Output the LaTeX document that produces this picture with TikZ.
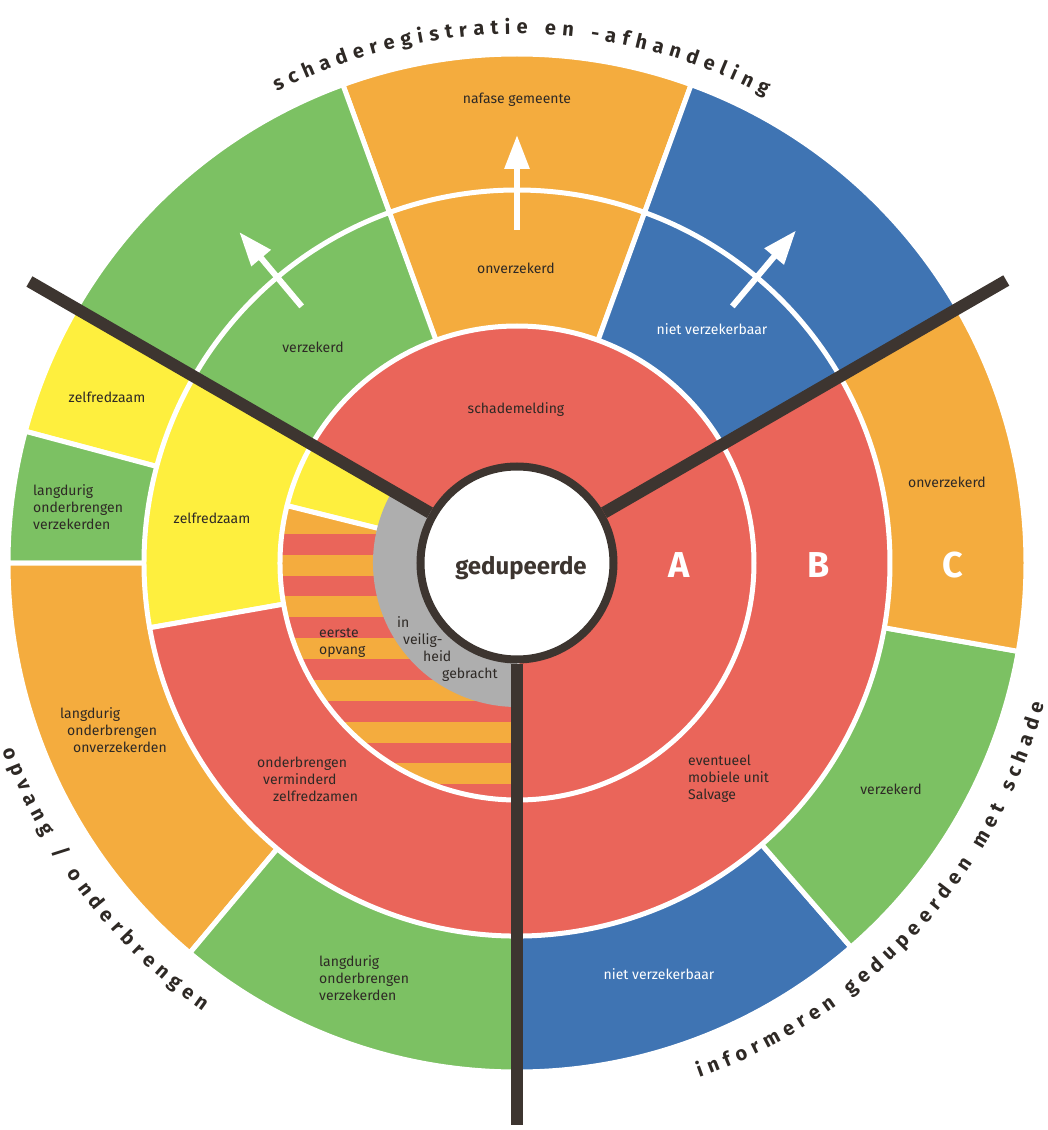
\documentclass[tikz,border=0pt]{standalone}
\usepackage{fontspec}
\setmainfont{Fira Sans}
\usetikzlibrary{arrows.meta,decorations.text}
\definecolor{cRed}{HTML}{EA655A}
\definecolor{cOrange}{HTML}{F4AC3E}
\definecolor{cGreen}{HTML}{7CC163}
\definecolor{cBlue}{HTML}{3F74B3}
\definecolor{cYellow}{HTML}{FEEF3E}
\definecolor{cGray}{HTML}{AEAEAE}
\definecolor{cDark}{HTML}{3D3530}
\definecolor{cText}{HTML}{2E2925}
% pie slice: colour, start angle, end angle, radius
\newcommand{\ringslice}[4]{\filldraw[slice,fill=#1] (0,0) -- (#2:#4) arc[start angle=#2,end angle=#3,radius=#4] -- cycle;}
\begin{document}
\begin{tikzpicture}[x=1pt,y=1pt,
  slice/.style={draw=white,line width=5pt,line join=round},
  spoke/.style={draw=cDark,line width=12pt},
  outarrow/.style={draw=white,line width=6pt,-{Triangle[length=34pt,width=24pt]}},
  hub/.style={circle,draw=cDark,fill=white,line width=8pt,minimum size=193pt,inner sep=0pt,font=\fontsize{24}{24}\selectfont\bfseries,text=cDark},
  lbl/.style={font=\fontsize{14}{17}\selectfont,text=cText,inner sep=0pt},
  wlbl/.style={lbl,text=white},
  big/.style={font=\fontsize{36}{36}\selectfont\bfseries,text=white,inner sep=0pt}]
\useasboundingbox (-517,-567) rectangle (531,563);
% outer ring
\ringslice{cOrange}{70}{110}{509}
\ringslice{cGreen}{110}{150}{509}
\ringslice{cYellow}{150}{165}{509}
\ringslice{cGreen}{165}{180}{509}
\ringslice{cOrange}{180}{230}{509}
\ringslice{cGreen}{230}{270}{509}
\ringslice{cBlue}{270}{311}{509}
\ringslice{cGreen}{311}{350}{509}
\ringslice{cOrange}{350}{390}{509}
\ringslice{cBlue}{30}{70}{509}
% middle ring
\ringslice{cOrange}{70}{110}{373}
\ringslice{cGreen}{110}{150}{373}
\ringslice{cYellow}{150}{190}{373}
\ringslice{cRed}{190}{390}{373}
\ringslice{cBlue}{30}{70}{373}
% inner ring
\ringslice{cRed}{-90}{150}{237}
\ringslice{cYellow}{150}{166}{237}
\begin{scope}
\clip (0,0) -- (166:237) arc[start angle=166,end angle=270,radius=237] -- cycle;
\fill[cRed] (-240,-240) rectangle (0,80);
\fill[cOrange] (-240,50) rectangle (0,80);
\foreach \k in {0,...,6}
  \fill[cOrange] (-240,{29-41.7*\k}) rectangle (0,{50-41.7*\k});
\end{scope}
\draw[slice] (0,0) -- (166:237) arc[start angle=166,end angle=270,radius=237] -- cycle;
\fill[cGray] (0,0) -- (150:144) arc[start angle=150,end angle=270,radius=144] -- cycle;
% arrows
\coordinate (a1) at (130:335);
\coordinate (a1t) at (130:432);
\coordinate (a2) at (90:333);
\coordinate (a2t) at (90:428);
\coordinate (a3) at (50:335);
\coordinate (a3t) at (50:434);
\draw[outarrow] (a1) -- (a1t);
\draw[outarrow] (a2) -- (a2t);
\draw[outarrow] (a3) -- (a3t);
% hub and spokes
\node[hub] (hub) at (0,0) {};
\coordinate (eL) at (150:563);
\coordinate (eR) at (30:565);
\coordinate (eB) at (270:562);
\draw[spoke] (hub) -- (eL);
\draw[spoke] (hub) -- (eR);
\draw[spoke] (hub) -- (eB);
\node[hub,draw=none,fill=none] (gedup) at (4,-5) {gedupeerde};
% labels
\node[lbl] (nafase) at (0,463) {nafase gemeente};
\node[lbl] (onverzT) at (-1,295) {onverzekerd};
\node[lbl] (verzT) at (-204,216) {verzekerd};
\node[wlbl] (nietT) at (195,234) {niet verzekerbaar};
\node[lbl] (melding) at (-1,153) {schademelding};
\node[lbl] (zelfO) at (-410,166) {zelfredzaam};
\node[lbl] (zelfM) at (-305,45) {zelfredzaam};
\node[lbl,align=left,anchor=west] (langL) at (-484,56) {langdurig\\onderbrengen\\verzekerden};
\node[lbl,align=left,anchor=west] (eerste) at (-198,-80) {eerste\\opvang};
\node[lbl,align=left,anchor=west] (veilig) at (-120,-86) {in\\\hspace*{6pt}veilig-\\\hspace*{26pt}heid\\\hspace*{45pt}gebracht};
\node[lbl,align=left,anchor=west] (langO) at (-457,-167) {langdurig\\\hspace*{7pt}onderbrengen\\\hspace*{13pt}onverzekerden};
\node[lbl,align=left,anchor=west] (vermind) at (-260,-216) {onderbrengen\\\hspace*{6pt}verminderd\\\hspace*{16pt}zelfredzamen};
\node[lbl,align=left,anchor=west] (langB) at (-198,-415) {langdurig\\onderbrengen\\verzekerden};
\node[lbl,align=left,anchor=west] (salvage) at (171,-216) {eventueel\\mobiele unit\\Salvage};
\node[lbl] (onverzR) at (430,81) {onverzekerd};
\node[lbl] (verzR) at (374,-226) {verzekerd};
\node[wlbl] (nietB) at (142,-411) {niet verzekerbaar};
\node[big] (lA) at (162,-2) {A};
\node[big] (lB) at (302,-2) {B};
\node[big] (lC) at (436,-2) {C};
% curved titles
\path[decorate,decoration={text along path,text align={fit to path},text color=cText,
  text={|\fontsize{20}{20}\selectfont\bfseries|schaderegistratie en -afhandeling}}]
  (117:529) arc[start angle=117,end angle=62,radius=529];
\path[decorate,decoration={text along path,text align={fit to path},text color=cText,
  text={|\fontsize{20}{20}\selectfont\bfseries|opvang / onderbrengen}}]
  (200:547) arc[start angle=200,end angle=235,radius=547];
\path[decorate,decoration={text along path,text align={fit to path},text color=cText,
  text={|\fontsize{20}{20}\selectfont\bfseries|informeren gedupeerden met schade}}]
  (-70.5:546) arc[start angle=-70.5,end angle=-15,radius=546];
\end{tikzpicture}
\end{document}
